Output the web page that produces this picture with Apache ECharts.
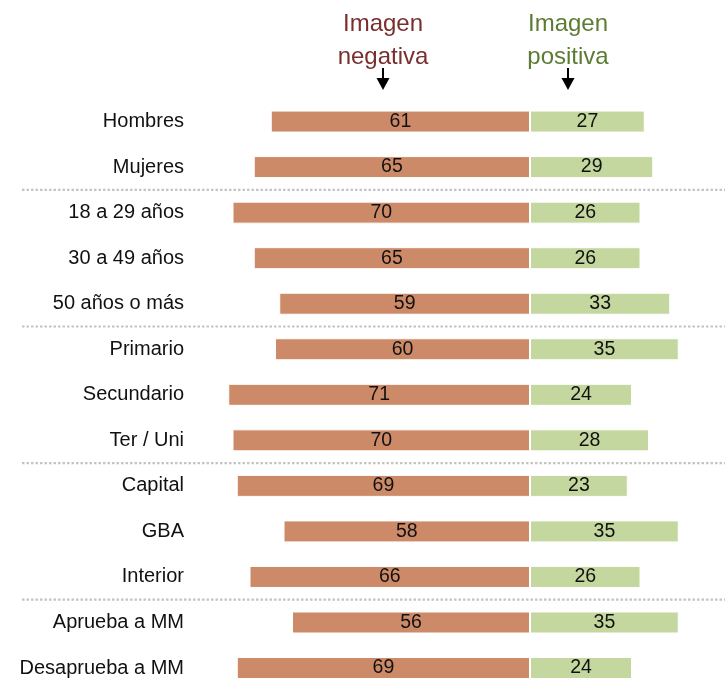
<!DOCTYPE html>
<html>
<head>
<meta charset="utf-8">
<script src="https://cdn.jsdelivr.net/npm/echarts@6/dist/echarts.min.js"></script>
<style>html,body{margin:0;padding:0;background:#fff;overflow:hidden}#c{width:725px;height:730px}</style>
</head>
<body>
<div id="c"></div>
<script>
const categories = ['Hombres','Mujeres','18 a 29 años','30 a 49 años','50 años o más','Primario','Secundario','Ter / Uni','Capital','GBA','Interior','Aprueba a MM','Desaprueba a MM'];
const negativeValues = [61,65,70,65,59,60,71,70,69,58,66,56,69];
const positiveValues = [27,29,26,26,33,35,24,28,23,35,26,35,24];
const groupBreaksAfter = [1,4,7,10];

const FONT = '"Liberation Sans", Arial, sans-serif';
const chart = echarts.init(document.getElementById('c'));
chart.setOption({
  animation:false,
  grid:{left:190, right:3.75, top:98.8, height:592},
  xAxis:{type:'value', min:-80, max:45, show:false},
  yAxis:{type:'category', inverse:true, data:categories,
    axisLine:{show:false}, axisTick:{show:false}, splitLine:{show:false},
    axisLabel:{fontFamily:FONT, fontSize:20, color:'#111', margin:6}},
  series:[
    {type:'bar', stack:'s', barWidth:22, data:negativeValues.map(v=>-v),
     itemStyle:{color:'#CD8A68', borderColor:'#fff', borderWidth:1},
     label:{show:true, position:'inside', fontFamily:FONT, fontSize:19.5, color:'#111', formatter:p=>Math.abs(p.value)}},
    {type:'bar', stack:'s', barWidth:22, data:positiveValues,
     itemStyle:{color:'#C4D79E', borderColor:'#fff', borderWidth:1},
     label:{show:true, position:'inside', fontFamily:FONT, fontSize:19.5, color:'#111'}}
  ]
});

const graphics = [];
groupBreaksAfter.forEach(i=>{
  const y1 = chart.convertToPixel({yAxisIndex:0}, i);
  const y2 = chart.convertToPixel({yAxisIndex:0}, i+1);
  const y = (y1+y2)/2;
  graphics.push({type:'line', shape:{x1:22,y1:y,x2:725,y2:y},
    style:{stroke:'#c4c4c4', lineWidth:2.2, lineDash:[2.5,2]}});
});
function header(x, text, color){
  graphics.push({type:'text', x:x, y:8, style:{text:text, fontFamily:FONT, fontSize:24, fill:color, align:'center', verticalAlign:'top', lineHeight:33}});
  graphics.push({type:'line', shape:{x1:x,y1:68,x2:x,y2:80}, style:{stroke:'#000', lineWidth:2}});
  graphics.push({type:'polygon', shape:{points:[[x-6.5,78],[x+6.5,78],[x,90]]}, style:{fill:'#000'}});
}
header(383, 'Imagen\nnegativa', '#7A2E2E');
header(568, 'Imagen\npositiva', '#5C7B33');
chart.setOption({graphic:graphics});
</script>
</body>
</html>
